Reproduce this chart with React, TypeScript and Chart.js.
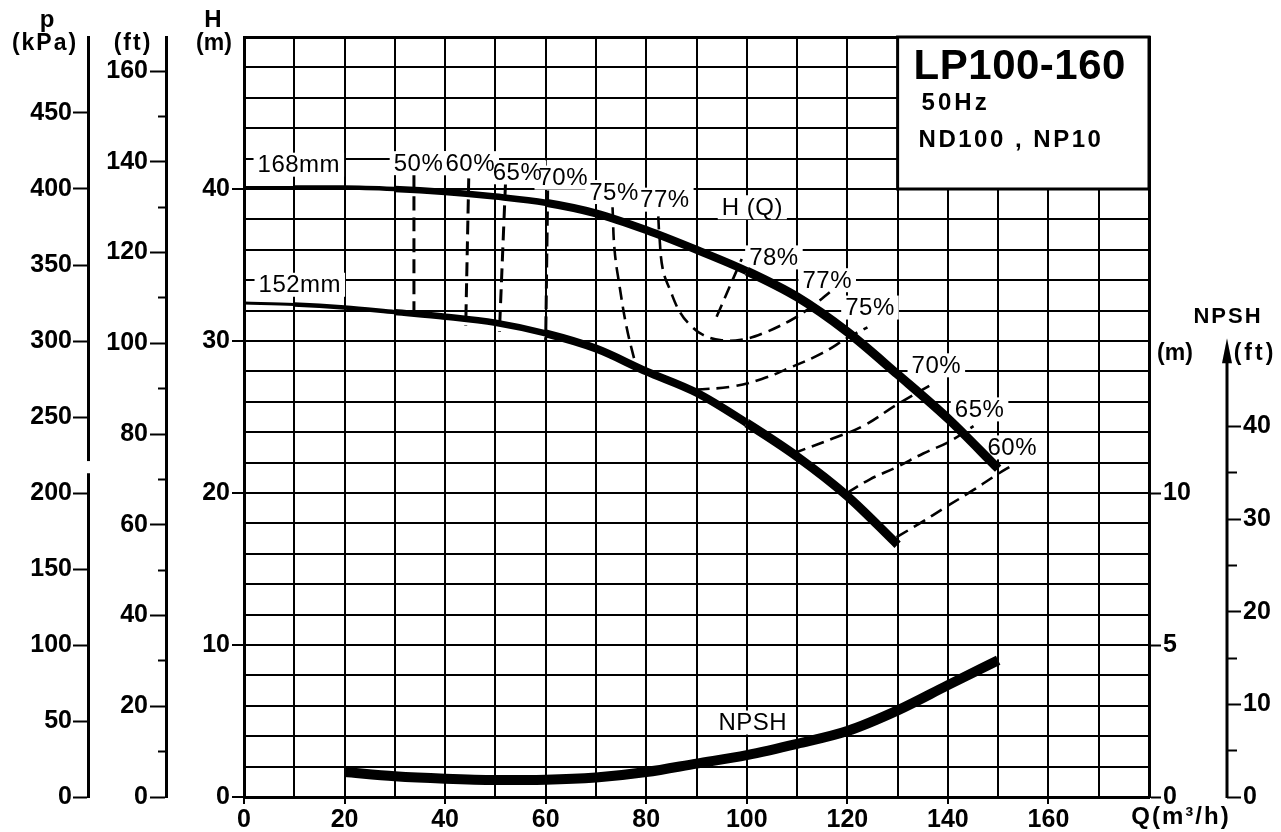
import { useEffect, useRef } from 'react';
import { Chart, registerables } from 'chart.js';

Chart.register(...registerables);

// ---------- data (Q in m3/h, H in m, NPSH in m) ----------
const Q_168 = [0, 10, 20, 30, 40, 50, 60, 70, 80, 90, 100, 110, 120, 130, 140, 150];
const H_168 = [40.1, 40.1, 40.1, 40.0, 39.8, 39.5, 39.1, 38.4, 37.3, 36.0, 34.6, 32.9, 30.6, 27.8, 24.9, 21.6];

const Q_152 = [0, 10, 20, 30, 40, 50, 60, 70, 80, 90, 100, 110, 120, 130];
const H_152 = [32.5, 32.4, 32.2, 31.9, 31.6, 31.2, 30.5, 29.5, 28.0, 26.6, 24.6, 22.4, 19.8, 16.6];

const Q_NPSH = [20, 30, 40, 50, 60, 70, 80, 90, 100, 110, 120, 130, 140, 150];
const NPSH_M = [0.82, 0.68, 0.6, 0.56, 0.57, 0.64, 0.82, 1.1, 1.38, 1.75, 2.17, 2.85, 3.68, 4.5];

// iso-efficiency curves
const Q_E50 = [33.8, 33.8];
const H_E50 = [40.9, 31.4];
const Q_E60 = [44.7, 44.1];
const H_E60 = [40.7, 31.0];
const Q_E65 = [52.0, 50.8];
const H_E65 = [40.3, 30.6];
const Q_E70_LEFT = [60.4, 60.0];
const H_E70_LEFT = [39.9, 30.0];
const Q_E75_LEFT = [73.3, 73.7, 74.7, 76.1, 77.7, 78.1];
const H_E75_LEFT = [38.8, 36.0, 33.6, 30.9, 28.7, 28.2];
const Q_E75_RIGHT = [90, 97, 103, 109, 115, 120, 124];
const H_E75_RIGHT = [26.8, 27.0, 27.5, 28.3, 29.2, 30.2, 30.9];
const Q_E77 = [82.4, 82.6, 83.3, 84.7, 86.7, 88.9, 91.3, 95.0, 99.2, 103.2, 108.4, 111.8, 115.0, 116.5];
const H_E77 = [38.2, 37.0, 34.7, 33.4, 31.9, 31.0, 30.4, 30.05, 30.1, 30.5, 31.3, 32.0, 32.8, 33.2];
const Q_E78 = [94.0, 99.0];
const H_E78 = [31.6, 35.4];
const Q_E70_RIGHT = [109.2, 117.2, 123.1, 129.8, 137.1];
const H_E70_RIGHT = [22.6, 23.6, 24.4, 25.8, 27.2];
const Q_E65_RIGHT = [119.9, 124.5, 129.8, 135.1, 140.4, 145.1];
const H_E65_RIGHT = [20.0, 20.9, 21.7, 22.6, 23.4, 24.4];
const Q_E60_RIGHT = [129.8, 134.4, 139.7, 145.1, 149.7, 152.7];
const H_E60_RIGHT = [17.1, 18.0, 19.1, 20.2, 21.2, 21.8];

// curve labels (text, Q, H)
const LABEL_TEXT = ['168mm', '152mm', '50%', '60%', '65%', '70%', '75%', '77%', 'H (Q)', '78%', '77%', '75%', '70%', '65%', '60%', 'NPSH'];
const LABEL_Q = [10.9, 11.1, 34.7, 45.0, 54.4, 63.5, 73.6, 83.7, 101.1, 105.4, 116.0, 124.5, 137.7, 146.3, 152.8, 101.2];
const LABEL_H = [41.6, 33.7, 41.7, 41.7, 41.1, 40.75, 39.8, 39.3, 38.8, 35.5, 34.0, 32.2, 28.4, 25.5, 23.0, 4.9];

// title box
const TITLE_LINES = ['LP100-160', '50Hz', 'ND100 , NP10'];
const TITLE_BOX_Q = [130, 180];
const TITLE_BOX_H = [40, 50];

// axes
const Q_MIN = 0, Q_MAX = 180;
const H_MIN = 0, H_MAX = 50;
const KPA_MAX = 500, KPA_LAST_TICK = 450;
const FT_MAX = 167.5, FT_LAST_TICK = 160;
const NPSH_M_MAX = 25, NPSH_M_LAST_TICK = 10;
const NPSH_FT_MAX = 25 / 0.3048, NPSH_FT_LAST_TICK = 40, NPSH_FT_ARROW = 49.5;
const KPA_GAP = [213, 221];

const FONT = '"Liberation Sans", Arial, Helvetica, sans-serif';

const toXY = (qs: number[], hs: number[]) => qs.map((q, i) => ({ x: q, y: hs[i] }));

const headWidth = (q: number) => (q < 10 ? 3 : q < 30 ? 4.5 : q < 60 ? 6.5 : q < 100 ? 8 : 9);

function dashed(qs: number[], hs: number[], vertical = false) {
  return {
    data: toXY(qs, hs),
    yAxisID: 'y',
    borderColor: '#000',
    borderWidth: vertical ? 3 : 2.6,
    borderDash: vertical ? [14, 7] : [13, 7],
    pointRadius: 0,
    tension: 0.4,
    fill: false,
    order: 2,
  };
}

function drawText(ctx: any, text: string, x: number, y: number, font: string, align: string, spacing = 0) {
  ctx.save();
  ctx.font = font;
  ctx.textAlign = align;
  ctx.textBaseline = 'middle';
  ctx.fillStyle = '#000';
  try { ctx.letterSpacing = spacing + 'px'; } catch (e) { /* ignore */ }
  ctx.fillText(text, x, y);
  ctx.restore();
}

const annotations = {
  id: 'annotations',
  beforeDatasetsDraw(chart: any) {
    const { ctx, scales } = chart;
    const x = scales.x, y = scales.y;
    // title box
    const bx1 = x.getPixelForValue(TITLE_BOX_Q[0]);
    const bx2 = x.getPixelForValue(TITLE_BOX_Q[1]);
    const by1 = y.getPixelForValue(TITLE_BOX_H[1]);
    const by2 = y.getPixelForValue(TITLE_BOX_H[0]);
    ctx.save();
    ctx.fillStyle = '#fff';
    ctx.fillRect(bx1, by1, bx2 - bx1, by2 - by1);
    ctx.strokeStyle = '#000';
    ctx.lineWidth = 3;
    ctx.strokeRect(bx1, by1, bx2 - bx1, by2 - by1);
    ctx.restore();
    drawText(ctx, TITLE_LINES[0], bx1 + 16, by1 + 30, `bold 42px ${FONT}`, 'left', 0.5);
    drawText(ctx, TITLE_LINES[1], bx1 + 24, by1 + 66, `bold 24px ${FONT}`, 'left', 3);
    drawText(ctx, TITLE_LINES[2], bx1 + 21, by1 + 103, `bold 24px ${FONT}`, 'left', 2.5);

    // curve labels with white knock-out boxes
    ctx.save();
    ctx.font = `24px ${FONT}`;
    try { ctx.letterSpacing = '0.5px'; } catch (e) { /* ignore */ }
    LABEL_TEXT.forEach((t, i) => {
      const px = x.getPixelForValue(LABEL_Q[i]);
      const py = y.getPixelForValue(LABEL_H[i]);
      const w = ctx.measureText(t).width;
      ctx.fillStyle = '#fff';
      ctx.fillRect(px - w / 2 - 4, py - 12, w + 8, 24);
    });
    ctx.restore();
    LABEL_TEXT.forEach((t, i) => {
      const px = x.getPixelForValue(LABEL_Q[i]);
      const py = y.getPixelForValue(LABEL_H[i]);
      drawText(ctx, t, px, py + 1, `24px ${FONT}`, 'center', 0.5);
    });
  },
  afterDraw(chart: any) {
    const { ctx, scales, chartArea } = chart;
    const kpa = scales.kpa, ft = scales.ft, y = scales.y, nft = scales.npshft, nm = scales.npsh;

    // gap in the kPa axis line
    const g1 = kpa.getPixelForValue(KPA_GAP[1]);
    const g2 = kpa.getPixelForValue(KPA_GAP[0]);
    ctx.save();
    ctx.fillStyle = '#fff';
    ctx.fillRect(kpa.right - 4, g1, 8, g2 - g1);
    ctx.restore();

    // NPSH ft axis line with arrow
    const ax = nft.left;
    const yTop = nft.getPixelForValue(NPSH_FT_ARROW);
    const yBot = nft.getPixelForValue(0);
    ctx.save();
    ctx.strokeStyle = '#000';
    ctx.lineWidth = 3;
    ctx.beginPath();
    ctx.moveTo(ax, yBot + 1);
    ctx.lineTo(ax, yTop + 20);
    ctx.stroke();
    ctx.fillStyle = '#000';
    ctx.beginPath();
    ctx.moveTo(ax, yTop);
    ctx.lineTo(ax - 5, yTop + 25);
    ctx.lineTo(ax + 5, yTop + 25);
    ctx.closePath();
    ctx.fill();
    ctx.restore();

    // axis titles (left)
    const top = chartArea.top;
    drawText(ctx, 'p', kpa.right - 41, top - 17, `bold 24px ${FONT}`, 'center', 0);
    drawText(ctx, '(kPa)', kpa.right - 43, top + 7, `bold 23px ${FONT}`, 'center', 2);
    drawText(ctx, '(ft)', ft.right - 33, top + 7, `bold 23px ${FONT}`, 'center', 2);
    drawText(ctx, 'H', y.right - 31, top - 17, `bold 24px ${FONT}`, 'center', 0);
    drawText(ctx, '(m)', y.right - 30, top + 7, `bold 23px ${FONT}`, 'center', 0);

    // axis titles (right)
    drawText(ctx, 'NPSH', nft.left + 1, nm.getPixelForValue(15.8), `bold 22px ${FONT}`, 'center', 2);
    drawText(ctx, '(m)', nm.left + 26, nm.getPixelForValue(14.6), `bold 23px ${FONT}`, 'center', 0);
    drawText(ctx, '(ft)', nft.left + 28, nm.getPixelForValue(14.6), `bold 23px ${FONT}`, 'center', 3);

    // Q axis title
    drawText(ctx, 'Q(m³/h)', chartArea.right + 32, chartArea.bottom + 20, `bold 24px ${FONT}`, 'center', 2);
  },
};

const tickFont = { family: FONT, size: 25, weight: 'bold' as const };

function onlyUpTo(limit: number) {
  return (scale: any) => {
    scale.ticks = scale.ticks.filter((t: any) => t.value <= limit + 1e-9);
  };
}

export default function App() {
  const ref = useRef<HTMLCanvasElement>(null);

  useEffect(() => {
    const canvas = ref.current;
    if (!canvas) return;
    const chart = new Chart(canvas, {
      type: 'line',
      data: {
        datasets: [
          {
            label: '168mm',
            data: toXY(Q_168, H_168),
            yAxisID: 'y',
            borderColor: '#000',
            borderWidth: 8,
            pointRadius: 0,
            cubicInterpolationMode: 'monotone',
            borderCapStyle: 'butt',
            segment: { borderWidth: (c: any) => headWidth(c.p0.parsed.x) },
            order: 1,
          },
          {
            label: '152mm',
            data: toXY(Q_152, H_152),
            yAxisID: 'y',
            borderColor: '#000',
            borderWidth: 8,
            pointRadius: 0,
            cubicInterpolationMode: 'monotone',
            borderCapStyle: 'butt',
            segment: { borderWidth: (c: any) => headWidth(c.p0.parsed.x) },
            order: 1,
          },
          {
            label: 'NPSH',
            data: toXY(Q_NPSH, NPSH_M),
            yAxisID: 'npsh',
            borderColor: '#000',
            borderWidth: 10,
            pointRadius: 0,
            cubicInterpolationMode: 'monotone',
            borderCapStyle: 'butt',
            order: 1,
          },
          { label: '50%', ...dashed(Q_E50, H_E50, true) },
          { label: '60%', ...dashed(Q_E60, H_E60, true) },
          { label: '65%', ...dashed(Q_E65, H_E65, true) },
          { label: '70%', ...dashed(Q_E70_LEFT, H_E70_LEFT, true) },
          { label: '75% a', ...dashed(Q_E75_LEFT, H_E75_LEFT) },
          { label: '75% b', ...dashed(Q_E75_RIGHT, H_E75_RIGHT) },
          { label: '77%', ...dashed(Q_E77, H_E77) },
          { label: '78%', ...dashed(Q_E78, H_E78) },
          { label: '70% r', ...dashed(Q_E70_RIGHT, H_E70_RIGHT) },
          { label: '65% r', ...dashed(Q_E65_RIGHT, H_E65_RIGHT) },
          { label: '60% r', ...dashed(Q_E60_RIGHT, H_E60_RIGHT) },
        ] as any,
      },
      options: {
        responsive: false,
        maintainAspectRatio: false,
        animation: false,
        devicePixelRatio: 1,
        layout: { padding: { top: 37, left: 0, right: 0, bottom: 0 }, autoPadding: false },
        plugins: { legend: { display: false }, tooltip: { enabled: false } },
        events: [],
        scales: {
          x: {
            type: 'linear',
            position: 'bottom',
            min: Q_MIN,
            max: Q_MAX,
            grid: {
              color: '#000',
              lineWidth: (c: any) => (c.tick && c.tick.value === Q_MAX ? 3 : 2),
              tickLength: 7,
              tickWidth: 2,
              tickColor: (c: any) => (c.tick && c.tick.value % 20 === 0 && c.tick.value < Q_MAX ? '#000' : 'rgba(0,0,0,0)'),
            },
            border: { display: true, color: '#000', width: 3 },
            ticks: {
              stepSize: 10,
              autoSkip: false,
              maxRotation: 0,
              minRotation: 0,
              padding: 1,
              color: '#000',
              font: tickFont,
              callback: (v: any) => (v % 20 === 0 && v < Q_MAX ? String(v) : ''),
            },
            afterFit: (s: any) => { s.height = 35; },
          },
          y: {
            type: 'linear',
            position: 'left',
            weight: 0,
            min: H_MIN,
            max: H_MAX,
            grid: {
              color: '#000',
              lineWidth: (c: any) => (c.tick && c.tick.value === H_MAX ? 3 : 2),
              tickLength: 12,
              tickWidth: 2,
              tickColor: (c: any) => (c.tick && c.tick.value % 10 === 0 && c.tick.value < H_MAX ? '#000' : 'rgba(0,0,0,0)'),
            },
            border: { display: true, color: '#000', width: 3 },
            ticks: {
              stepSize: 2,
              autoSkip: false,
              padding: 2,
              color: '#000',
              font: tickFont,
              callback: (v: any) => (v % 10 === 0 && v < H_MAX ? String(v) : ''),
            },
            afterFit: (s: any) => { s.width = 78; },
          },
          ft: {
            type: 'linear',
            position: 'left',
            weight: 1,
            min: 0,
            max: FT_MAX,
            afterBuildTicks: onlyUpTo(FT_LAST_TICK),
            grid: {
              drawOnChartArea: false,
              color: '#000',
              tickLength: 16,
              tickWidth: 2,
              tickColor: '#000',
              tickBorderDash: (c: any) => (c.tick && c.tick.value % 20 !== 0 ? [0, 8, 9, 60] : []),
            },
            border: { display: true, color: '#000', width: 3 },
            ticks: {
              stepSize: 10,
              autoSkip: false,
              padding: 2,
              color: '#000',
              font: tickFont,
              callback: (v: any) => (v % 20 === 0 ? String(v) : ''),
            },
            afterFit: (s: any) => { s.width = 78; },
          },
          kpa: {
            type: 'linear',
            position: 'left',
            weight: 2,
            min: 0,
            max: KPA_MAX,
            afterBuildTicks: onlyUpTo(KPA_LAST_TICK),
            grid: {
              drawOnChartArea: false,
              color: '#000',
              tickLength: 15,
              tickWidth: 2,
              tickColor: '#000',
            },
            border: { display: true, color: '#000', width: 3 },
            ticks: {
              stepSize: 50,
              autoSkip: false,
              padding: 1,
              color: '#000',
              font: tickFont,
            },
            afterFit: (s: any) => { s.width = 88; },
          },
          npsh: {
            type: 'linear',
            position: 'right',
            weight: 0,
            min: 0,
            max: NPSH_M_MAX,
            afterBuildTicks: onlyUpTo(NPSH_M_LAST_TICK),
            grid: {
              drawOnChartArea: false,
              color: '#000',
              tickLength: 12,
              tickWidth: 2,
              tickColor: '#000',
            },
            border: { display: true, color: '#000', width: 3 },
            ticks: {
              stepSize: 5,
              autoSkip: false,
              padding: 2,
              color: '#000',
              font: tickFont,
            },
            afterFit: (s: any) => { s.width = 78; },
          },
          npshft: {
            type: 'linear',
            position: 'right',
            weight: 1,
            min: 0,
            max: NPSH_FT_MAX,
            afterBuildTicks: onlyUpTo(NPSH_FT_LAST_TICK),
            grid: {
              drawOnChartArea: false,
              color: '#000',
              tickLength: 14,
              tickWidth: 2,
              tickColor: '#000',
              tickBorderDash: (c: any) => (c.tick && c.tick.value % 10 !== 0 ? [10, 60] : []),
            },
            border: { display: false },
            ticks: {
              stepSize: 5,
              autoSkip: false,
              padding: 2,
              color: '#000',
              font: tickFont,
              callback: (v: any) => (v % 10 === 0 ? String(v) : ''),
            },
            afterFit: (s: any) => { s.width = 54; },
          },
        } as any,
      },
      plugins: [annotations],
    });
    return () => chart.destroy();
  }, []);

  return (
    <div style={{ position: 'fixed', left: 0, top: 0, width: 1281, height: 832, background: '#fff' }}>
      <canvas ref={ref} width={1281} height={832} style={{ display: 'block', width: 1281, height: 832 }} />
    </div>
  );
}
